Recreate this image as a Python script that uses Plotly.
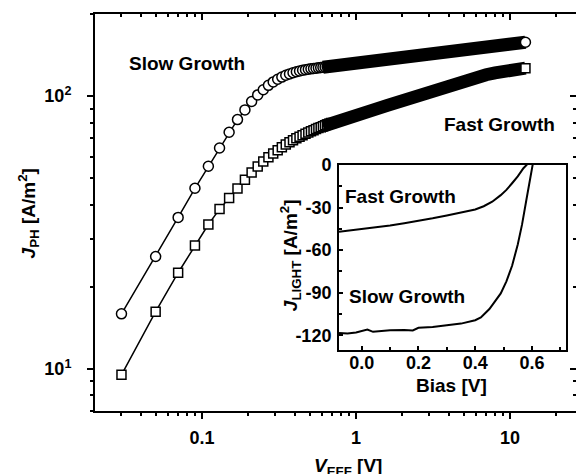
import math
import plotly.graph_objects as go

FONT = "Liberation Sans"

# ---- main panel: J_PH vs V_EFF (log-log) ----
v_low = [0.03, 0.05, 0.07, 0.09, 0.11, 0.13, 0.15, 0.17, 0.19, 0.21, 0.23, 0.25,
         0.27, 0.29, 0.31, 0.33, 0.35, 0.37, 0.39, 0.41, 0.43, 0.45, 0.47, 0.49,
         0.51, 0.53, 0.55, 0.57, 0.59, 0.61, 0.63, 0.65, 0.67, 0.69]
slow_j_low = [15.9, 25.8, 35.9, 45.9, 55.3, 64.5, 73.7, 82.0, 89.0, 95.5, 101.0, 105.5,
              109.5, 112.7, 115.3, 117.4, 119.2, 120.6, 121.8, 122.8, 123.7, 124.4, 125.0, 125.5,
              125.9, 126.3, 126.6, 126.9, 127.2, 127.5, 127.8, 128.1, 128.4, 128.7]
fast_j_low = [9.5, 16.2, 22.5, 28.3, 33.8, 38.5, 42.3, 45.8, 49.3, 52.5, 55.2, 57.6,
              59.7, 61.6, 63.3, 64.9, 66.4, 67.7, 68.9, 70.0, 71.0, 71.9, 72.8, 73.6,
              74.3, 75.0, 75.7, 76.3, 76.9, 77.5, 78.1, 78.6, 79.1, 79.6]

v_high = [0.61, 0.7, 0.8, 0.9, 1.0, 1.3, 1.6, 2.0, 2.5, 3.0, 3.5, 4.0, 5.0, 6.0,
          7.0, 8.0, 9.0, 10.0, 11.0, 12.6]
slow_j_high = [127.5, 128.8, 130.0, 131.0, 131.8, 134.2, 136.2, 138.4, 140.8, 142.8,
               144.4, 145.8, 148.2, 150.2, 151.8, 153.2, 154.4, 155.5, 156.4, 157.6]
fast_j_high = [77.5, 79.9, 81.8, 83.5, 85.0, 89.0, 92.5, 96.5, 100.5, 104.0,
               107.0, 110.0, 114.5, 117.5, 119.8, 121.7, 123.2, 124.4, 125.4, 126.6]

x_major = [0.1, 1, 10]
x_major_text = ["0.1", "1", "10"]
y_major = [10, 100]
y_major_text = ["10<sup>1</sup>", "10<sup>2</sup>"]

# ---- inset: J_LIGHT vs bias ----
fast_bias = [-0.08, 0.0, 0.05, 0.1, 0.15, 0.2, 0.25, 0.3, 0.35, 0.4, 0.43, 0.46,
             0.49, 0.51, 0.53, 0.55, 0.57, 0.58, 0.595]
fast_jl = [-47.1, -45.2, -44.2, -42.6, -41.0, -39.4, -37.5, -35.5, -33.6, -31.3, -29.0, -25.8,
           -21.2, -17.5, -12.8, -8.0, -2.2, 0.0, 3.0]
slow_bias = [-0.08, -0.05, -0.02, 0.0, 0.02, 0.04, 0.06, 0.1, 0.15, 0.18, 0.2, 0.25,
             0.3, 0.35, 0.4, 0.42, 0.45, 0.47, 0.49, 0.51, 0.53, 0.55, 0.565, 0.58,
             0.59, 0.6, 0.605]
slow_jl = [-118.4, -118.8, -118.0, -117.2, -116.0, -117.6, -117.2, -116.5, -116.3, -116.6,
           -114.8, -114.2, -113.0, -111.8, -109.4, -107.5, -101.5, -96.0, -90.5, -82.0,
           -71.0, -56.0, -42.0, -25.0, -13.0, -2.0, 3.0]
inset_x_ticks = [0.0, 0.2, 0.4, 0.6]
inset_x_text = ["0.0", "0.2", "0.4", "0.6"]
inset_y_ticks = [0, -30, -60, -90, -120]
inset_y_text = ["0", "-30", "-60", "-90", "-120"]

XR = [-1.6948, 1.4286]
YR = [math.log10(7.0), math.log10(200.0)]

tickf = dict(family=FONT, size=18, color="black", weight="bold")
labf = dict(family=FONT, size=19, color="black", weight="bold")

fig = go.Figure()


def add_series(v_lo, j_lo, v_hi, j_hi, symbol, size):
    mk = dict(symbol=symbol, size=size, color="white", line=dict(color="black", width=1.5))
    fig.add_trace(go.Scatter(x=v_lo, y=j_lo, mode="lines+markers",
                             line=dict(color="black", width=1.5), marker=mk,
                             xaxis="x", yaxis="y", hoverinfo="skip"))
    fig.add_trace(go.Scatter(x=v_hi, y=j_hi, mode="lines",
                             line=dict(color="black", width=13),
                             xaxis="x", yaxis="y", hoverinfo="skip"))
    fig.add_trace(go.Scatter(x=v_hi[-1:], y=j_hi[-1:], mode="markers", marker=mk,
                             xaxis="x", yaxis="y", hoverinfo="skip"))


add_series(v_low, slow_j_low, v_high, slow_j_high, "circle", 10)
add_series(v_low, fast_j_low, v_high, fast_j_high, "square", 9)

# invisible copies of one point so the mirrored (top / right) frame axes get drawn
fig.add_trace(go.Scatter(x=v_low[:1], y=slow_j_low[:1], mode="markers",
                         marker=dict(size=1, opacity=0), xaxis="x3", yaxis="y",
                         hoverinfo="skip"))
fig.add_trace(go.Scatter(x=v_low[:1], y=slow_j_low[:1], mode="markers",
                         marker=dict(size=1, opacity=0), xaxis="x", yaxis="y3",
                         hoverinfo="skip"))

fig.add_trace(go.Scatter(x=fast_bias, y=fast_jl, mode="lines",
                         line=dict(color="black", width=2), xaxis="x2", yaxis="y2"))
fig.add_trace(go.Scatter(x=slow_bias, y=slow_jl, mode="lines",
                         line=dict(color="black", width=2), xaxis="x2", yaxis="y2"))

main_axis = dict(showgrid=False, zeroline=False, showline=True, linewidth=2,
                 linecolor="black", tickcolor="black", tickwidth=2, ticklen=6,
                 tickfont=tickf, automargin=False)

fig.update_layout(
    width=576, height=474,
    margin=dict(l=95, r=0, t=14, b=63, autoexpand=False),
    paper_bgcolor="white", plot_bgcolor="white",
    showlegend=False,
    xaxis=dict(type="log", range=XR, domain=[0, 1], anchor="y",
               tickmode="array", tickvals=x_major, ticktext=x_major_text,
               ticks="outside", ticklabelstandoff=3,
               minor=dict(dtick="D1", ticks="outside",
                          ticklen=3, tickwidth=1.5, tickcolor="black", showgrid=False),
               **main_axis),
    yaxis=dict(type="log", range=YR, domain=[0, 1], anchor="x",
               tickmode="array", tickvals=y_major, ticktext=y_major_text,
               ticks="outside", ticklabelstandoff=12,
               minor=dict(dtick="D1", ticks="outside",
                          ticklen=3, tickwidth=1.5, tickcolor="black", showgrid=False),
               **main_axis),
    xaxis3=dict(type="log", range=XR, overlaying="x", side="top", anchor="y",
                tickmode="array", tickvals=x_major, ticks="inside", showticklabels=False,
                minor=dict(dtick="D1", ticks="inside",
                           ticklen=3, tickwidth=1.5, tickcolor="black", showgrid=False),
                **main_axis),
    yaxis3=dict(type="log", range=YR, overlaying="y", side="right", anchor="x",
                tickmode="array", tickvals=y_major, ticks="inside", showticklabels=False,
                minor=dict(dtick="D1", ticks="inside",
                           ticklen=3, tickwidth=1.5, tickcolor="black", showgrid=False),
                **{**main_axis, "showline": False}),
    xaxis2=dict(domain=[0.5073, 0.9792], anchor="y2", range=[-0.08, 0.72],
                tickmode="array", tickvals=inset_x_ticks, ticktext=inset_x_text,
                ticks="inside", ticklen=4, tickwidth=1.5, mirror=True,
                minor=dict(tickmode="linear", tick0=0, dtick=0.1, ticks="inside",
                           ticklen=3, tickwidth=1.5, tickcolor="black", showgrid=False),
                showgrid=False, zeroline=False, showline=True, linewidth=2,
                linecolor="black", tickcolor="black", tickfont=tickf,
                ticklabelstandoff=-5, automargin=False),
    yaxis2=dict(domain=[0.153, 0.6194], anchor="x2", range=[-130.6, 0],
                tickmode="array", tickvals=inset_y_ticks, ticktext=inset_y_text,
                ticks="inside", ticklen=4, tickwidth=1.5, mirror=True,
                minor=dict(tickmode="linear", tick0=0, dtick=15, ticks="inside",
                           ticklen=3, tickwidth=1.5, tickcolor="black", showgrid=False),
                showgrid=False, zeroline=False, showline=True, linewidth=2,
                linecolor="black", tickcolor="black", tickfont=tickf,
                ticklabelstandoff=2, automargin=False),
)

ann = [
    dict(text="Slow Growth", x=0.1906, y=0.8765),
    dict(text="Fast Growth", x=0.84, y=0.7227),
    dict(text="Fast Growth", x=0.636, y=0.5412),
    dict(text="Slow Growth", x=0.6481, y=0.2873),
    dict(text="Bias [V]", x=0.741, y=0.065),
    dict(text="<i>V</i><sub>EFF</sub> [V]", x=0.526, y=-0.14),
    dict(text="<i>J</i><sub>PH</sub> [A/m<sup>2</sup>]", x=-0.139, y=0.498, textangle=-90),
    dict(text="<i>J</i><sub>LIGHT</sub> [A/m<sup>2</sup>]", x=0.4054, y=0.3925, textangle=-90),
]
for a in ann:
    fig.add_annotation(xref="paper", yref="paper", showarrow=False,
                       xanchor="center", yanchor="middle", font=labf, **a)

fig.write_html("out.html", config={"displayModeBar": False},
               post_script="document.body.style.margin='0';"
                           "document.documentElement.style.margin='0';")
